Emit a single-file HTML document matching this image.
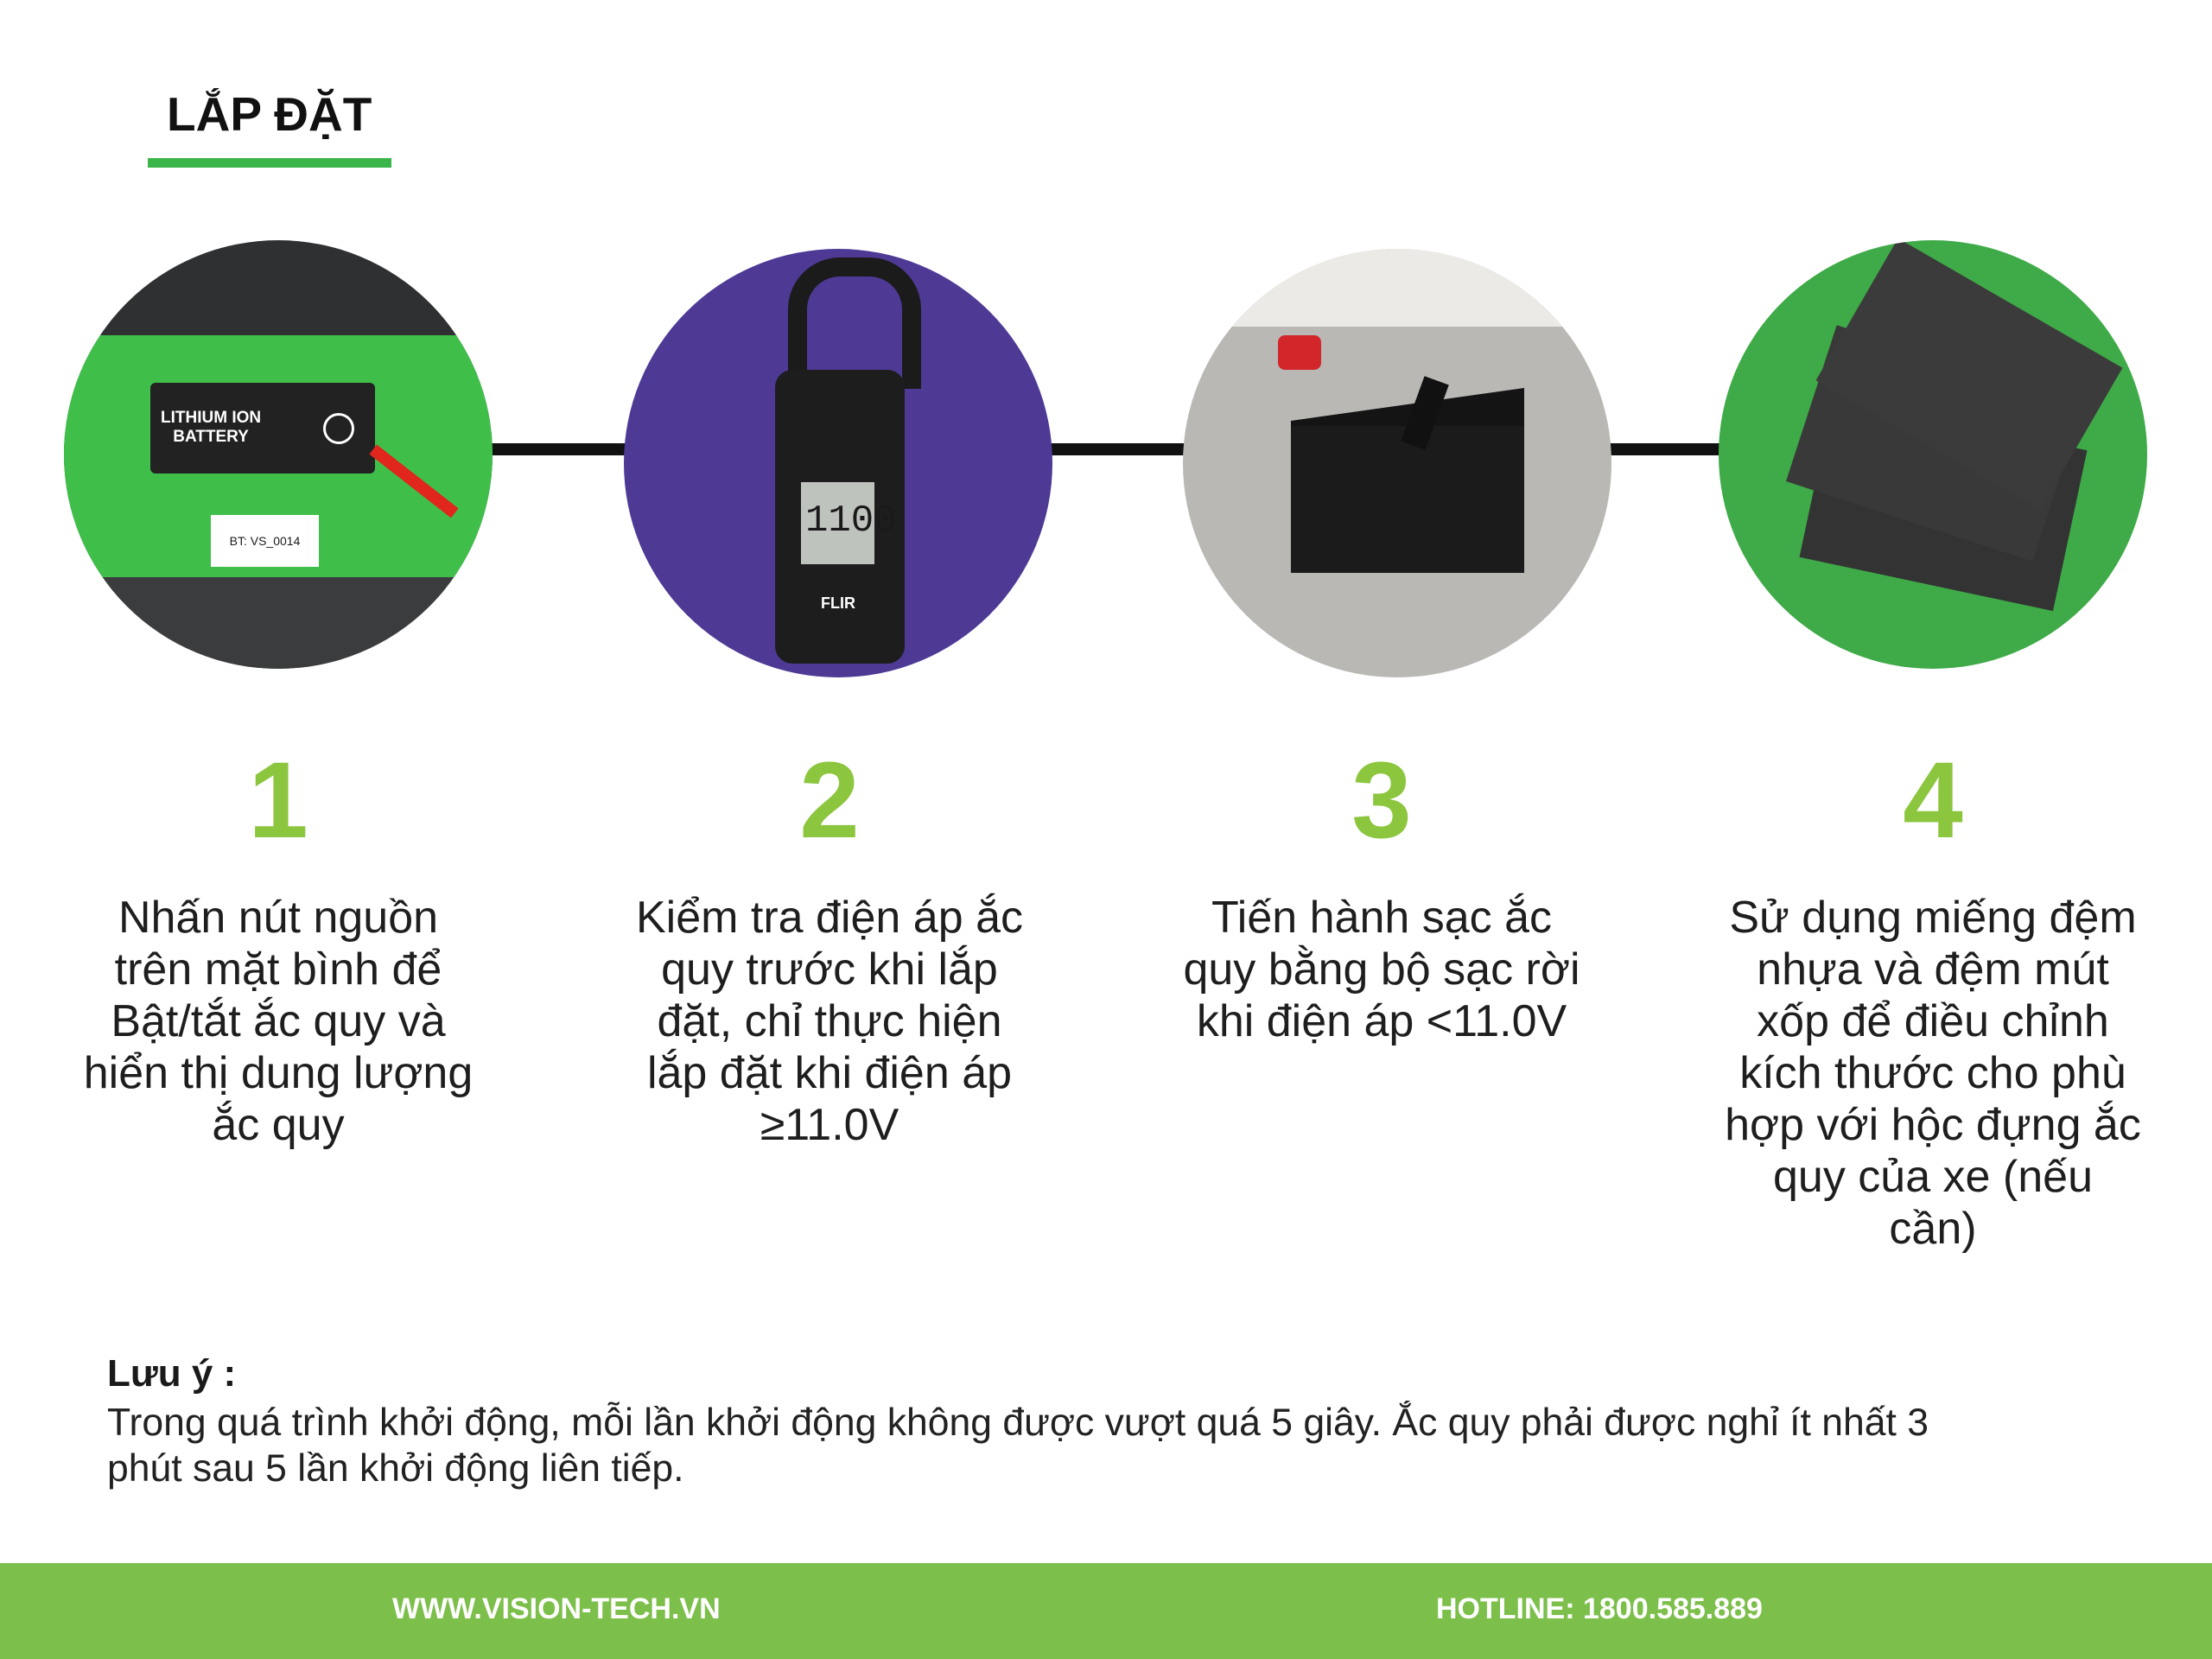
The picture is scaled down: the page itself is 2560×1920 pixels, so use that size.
<!DOCTYPE html>
<html><head><meta charset="utf-8"><style>
body{margin:0;width:2560px;height:1920px;background:#fff;position:relative;overflow:hidden;font-family:"Liberation Sans",sans-serif;color:#1a1a1a}
.a{position:absolute}
.num{position:absolute;top:862px;width:600px;text-align:center;font-size:125px;font-weight:bold;color:#8cc63f;line-height:130px}
.txt{position:absolute;top:1032px;width:700px;text-align:center;font-size:52px;line-height:60px;color:#1e1e1e;white-space:nowrap}
.c{position:absolute;width:496px;height:496px;border-radius:50%;overflow:hidden}
</style></head><body>
<div class="a" style="left:193px;top:100px;font-size:55px;font-weight:bold;color:#111">LẮP ĐẶT</div>
<div class="a" style="left:171px;top:183px;width:282px;height:11px;background:#3ab54a"></div>
<div class="a" style="left:322px;top:513px;width:1915px;height:14px;background:#111"></div>

<div class="c" style="left:74px;top:278px;background:#2e3031">
 <div class="a" style="left:0;top:110px;width:496px;height:280px;background:#3fbf4a"></div>
 <div class="a" style="left:100px;top:165px;width:260px;height:105px;background:#222;border-radius:6px"></div>
 <div class="a" style="left:112px;top:195px;color:#fff;font-size:19px;font-weight:bold;line-height:22px;text-align:center">LITHIUM ION<br>BATTERY</div>
 <div class="a" style="left:300px;top:200px;width:30px;height:30px;border-radius:50%;border:3px solid #fff"></div>
 <div class="a" style="left:170px;top:318px;width:125px;height:60px;background:#fff;font-size:14px;line-height:60px;text-align:center">BT: VS_0014</div>
 <div class="a" style="left:345px;top:272px;width:120px;height:14px;background:#e0261d;transform:rotate(38deg)"></div>
 <div class="a" style="left:0;top:390px;width:496px;height:110px;background:#3a3c3d"></div>
</div>

<div class="c" style="left:722px;top:288px;background:#4e3a95">
 <div class="a" style="left:190px;top:10px;width:110px;height:130px;border:22px solid #1b1b1b;border-bottom:none;border-radius:60px 60px 0 0"></div>
 <div class="a" style="left:175px;top:140px;width:150px;height:340px;background:#1d1d1d;border-radius:20px"></div>
 <div class="a" style="left:205px;top:270px;width:85px;height:95px;background:#bfc3bd"></div>
 <div class="a" style="left:210px;top:290px;font-size:44px;font-family:'Liberation Mono',monospace">1100</div>
 <div class="a" style="left:228px;top:400px;color:#fff;font-size:18px;font-weight:bold">FLIR</div>
</div>

<div class="c" style="left:1369px;top:288px;background:#b9b8b5">
 <div class="a" style="left:0;top:0;width:496px;height:90px;background:#eceae6"></div>
 <div class="a" style="left:125px;top:180px;width:270px;height:150px;background:#141414;transform:skewY(-8deg)"></div>
 <div class="a" style="left:125px;top:205px;width:270px;height:170px;background:#1b1b1b"></div>
 <div class="a" style="left:110px;top:100px;width:50px;height:40px;background:#d3262a;border-radius:8px"></div>
 <div class="a" style="left:265px;top:150px;width:30px;height:80px;background:#111;transform:rotate(20deg)"></div>
</div>

<div class="c" style="left:1989px;top:278px;background:#3faa48">
 <div class="a" style="left:110px;top:210px;width:300px;height:190px;background:#333;transform:rotate(12deg)"></div>
 <div class="a" style="left:100px;top:140px;width:300px;height:190px;background:#393939;transform:rotate(18deg)"></div>
 <div class="a" style="left:140px;top:60px;width:300px;height:190px;background:#3b3b3b;transform:rotate(30deg)"></div>
</div>

<div class="num" style="left:22px">1</div>
<div class="num" style="left:660px">2</div>
<div class="num" style="left:1299px">3</div>
<div class="num" style="left:1937px">4</div>

<div class="txt" style="left:-28px">Nhấn nút nguồn<br>trên mặt bình để<br>Bật/tắt ắc quy và<br>hiển thị dung lượng<br>ắc quy</div>
<div class="txt" style="left:610px">Kiểm tra điện áp ắc<br>quy trước khi lắp<br>đặt, chỉ thực hiện<br>lắp đặt khi điện áp<br>≥11.0V</div>
<div class="txt" style="left:1249px">Tiến hành sạc ắc<br>quy bằng bộ sạc rời<br>khi điện áp &lt;11.0V</div>
<div class="txt" style="left:1887px">Sử dụng miếng đệm<br>nhựa và đệm mút<br>xốp để điều chỉnh<br>kích thước cho phù<br>hợp với hộc đựng ắc<br>quy của xe (nếu<br>cần)</div>

<div class="a" style="left:124px;top:1565px;font-size:44px;font-weight:bold">Lưu ý :</div>
<div class="a" style="left:124px;top:1620px;width:2300px;font-size:44.5px;line-height:53px;color:#222">Trong quá trình khởi động, mỗi lần khởi động không được vượt quá 5 giây. Ắc quy phải được nghỉ ít nhất 3<br>phút sau 5 lần khởi động liên tiếp.</div>

<div class="a" style="left:0;top:1809px;width:2560px;height:111px;background:#7dbf4b"></div>
<div class="a" style="left:454px;top:1843px;color:#fff;font-size:34px;font-weight:bold">WWW.VISION-TECH.VN</div>
<div class="a" style="left:1662px;top:1843px;color:#fff;font-size:34px;font-weight:bold">HOTLINE: 1800.585.889</div>
</body></html>
